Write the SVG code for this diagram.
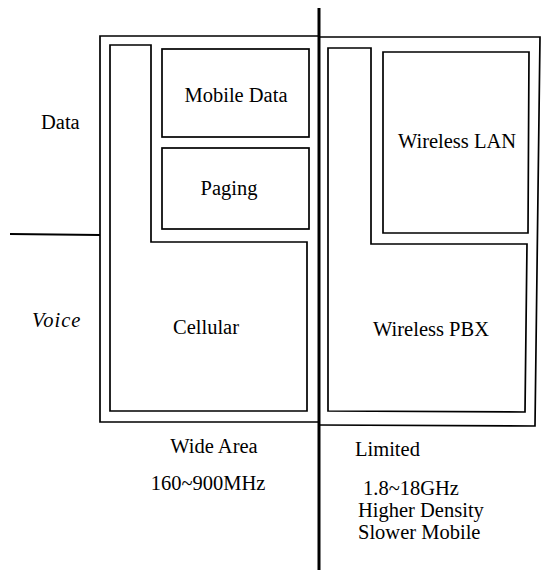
<svg xmlns="http://www.w3.org/2000/svg" width="544" height="570" viewBox="0 0 544 570">
<style>
.b{fill:none;stroke:#000;stroke-width:1.7;stroke-linejoin:miter}
.t{font-family:"Liberation Serif","Times New Roman",serif;font-size:20.5px;fill:#000}
.m{text-anchor:middle}
</style>
<rect width="544" height="570" fill="#fff"/>
<g id="wide-area-frame">
<polyline class="b" points="319,36 100,36 100,422 319,422"/>
</g>
<g id="limited-frame">
<polyline class="b" points="319,37 540,37 535,426 319,425"/>
</g>
<g id="cellular">
<polygon class="b" points="110,45 151,45 151,242 307,242 307,411 110,411"/>
<text class="t m" x="206" y="334">Cellular</text>
</g>
<g id="mobile-data">
<rect class="b" x="162" y="49" width="147" height="88"/>
<text class="t m" x="236" y="102">Mobile Data</text>
</g>
<g id="paging">
<rect class="b" x="162" y="148" width="147" height="81"/>
<text class="t m" x="229" y="195">Paging</text>
</g>
<g id="wireless-pbx">
<polygon class="b" points="328,48 371,48 371,244 527,244 525,412 328,411"/>
<text class="t m" x="431" y="336">Wireless PBX</text>
</g>
<g id="wireless-lan">
<polygon class="b" points="383,52 529,52 528,233 383,233"/>
<text class="t m" x="457" y="148">Wireless LAN</text>
</g>
<g id="connectors">
<line x1="319" y1="8" x2="319" y2="570" stroke="#000" stroke-width="3"/>
<line x1="10" y1="234" x2="100" y2="235" stroke="#000" stroke-width="2.2"/>
</g>
<g id="labels">
<text class="t" x="41" y="129">Data</text>
<text class="t" x="32" y="327" font-style="italic" letter-spacing="1">Voice</text>
<text class="t m" x="214" y="453">Wide Area</text>
<text class="t m" x="208" y="490">160~900MHz</text>
<text class="t" x="355" y="456">Limited</text>
<text class="t" x="363" y="495">1.8~18GHz</text>
<text class="t" x="358" y="517">Higher Density</text>
<text class="t" x="358" y="539">Slower Mobile</text>
</g>
</svg>
